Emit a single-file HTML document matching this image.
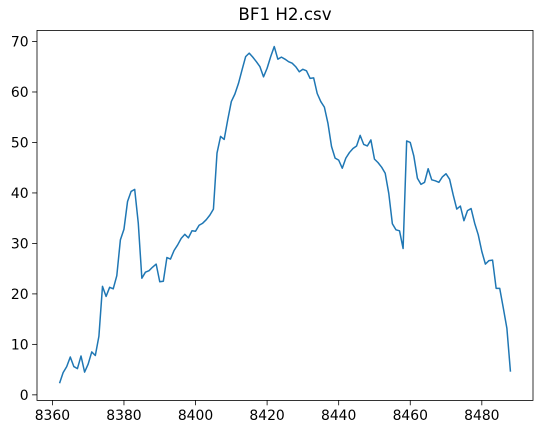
<!DOCTYPE html>
<html><head><meta charset="utf-8"><style>
body{margin:0;background:#fff;}
svg{display:block;font-family:"DejaVu Sans","Liberation Sans",sans-serif;}
</style></head><body>
<svg id="chart" width="543" height="433">
<text x="285" y="20" text-anchor="middle" font-size="16.7">BF1 H2.csv</text>
<g id="ticks"></g>
<path id="line" fill="none" stroke="#1f77b4" stroke-width="1.5" stroke-linejoin="round"></path>
<rect x="37" y="30.4" width="496" height="370" fill="none" stroke="#000" stroke-width="0.8"></rect>
</svg>
<script>
const xStart = 8362;
const yValues = [2.3,4.4,5.6,7.5,5.6,5.2,7.7,4.5,6.1,8.5,7.8,11.6,21.5,19.5,21.3,21.0,23.6,30.7,32.8,38.3,40.3,40.7,34,23.1,24.3,24.6,25.3,25.9,22.4,22.5,27.2,26.9,28.6,29.7,31.0,31.8,31.1,32.5,32.4,33.6,34,34.7,35.6,36.8,47.9,51.2,50.6,54.5,58.1,59.6,61.7,64.4,67,67.7,66.9,66,65,63,64.7,67,69,66.5,66.9,66.5,66,65.7,65,64,64.5,64.2,62.7,62.8,59.7,58.1,57,53.8,49.2,46.9,46.5,44.9,46.9,48,48.8,49.3,51.4,49.6,49.3,50.5,46.7,46,45.1,43.9,39.9,33.9,32.7,32.5,29,50.3,50,47.3,42.9,41.7,42.1,44.8,42.6,42.4,42.1,43.2,43.8,42.7,39.6,36.8,37.4,34.5,36.5,36.9,34,31.7,28.4,25.9,26.6,26.7,21.1,21.1,17.2,13.2,4.6];
const xTicks = [8360,8380,8400,8420,8440,8460,8480];
const yTicks = [0,10,20,30,40,50,60,70];
const X0=37,X1=533,Y0=400.4,Y1=30.4;
const xMin=8355.7,xMax=8494.3,yMin=-1.1,yMax=72.2;
function sx(v){return X0+(v-xMin)/(xMax-xMin)*(X1-X0);}
function sy(v){return Y0-(v-yMin)/(yMax-yMin)*(Y0-Y1);}
const NS="http://www.w3.org/2000/svg";
let d="";
yValues.forEach((v,i)=>{d+=(i?"L":"M")+sx(xStart+i).toFixed(2)+","+sy(v).toFixed(2);});
document.getElementById("line").setAttribute("d",d);
const g=document.getElementById("ticks");
xTicks.forEach(t=>{
 const x=sx(t);
 const l=document.createElementNS(NS,"line");
 l.setAttribute("x1",x);l.setAttribute("x2",x);l.setAttribute("y1",Y0);l.setAttribute("y2",Y0+4.9);
 l.setAttribute("stroke","#000");l.setAttribute("stroke-width","0.8");
 
 
 g.appendChild(l);
 const tx=document.createElementNS(NS,"text");
 tx.setAttribute("x",x);tx.setAttribute("y",Y0+19.5);tx.setAttribute("text-anchor","middle");tx.setAttribute("font-size","13.9");
 tx.textContent=t;
 
 
 g.appendChild(tx);
});
yTicks.forEach(t=>{
 const y=sy(t);
 const l=document.createElementNS(NS,"line");
 l.setAttribute("x1",X0-4.9);l.setAttribute("x2",X0);l.setAttribute("y1",y);l.setAttribute("y2",y);
 l.setAttribute("stroke","#000");l.setAttribute("stroke-width","0.8");
 
 
 g.appendChild(l);
 const tx=document.createElementNS(NS,"text");
 tx.setAttribute("x",X0-8.4);tx.setAttribute("y",y+5);tx.setAttribute("text-anchor","end");tx.setAttribute("font-size","13.9");
 tx.textContent=t;
 
 
 g.appendChild(tx);
});
</script>
</body></html>
